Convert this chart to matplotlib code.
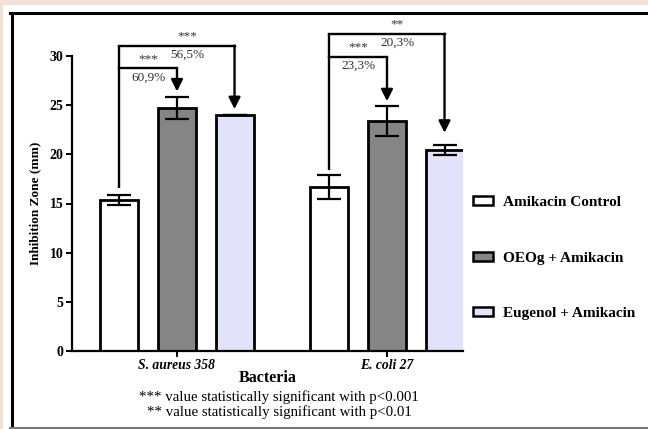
import matplotlib
matplotlib.use("Agg")
import matplotlib.pyplot as plt
from matplotlib.lines import Line2D
from matplotlib.patches import Rectangle, Patch
import numpy as np

categories = ["S. aureus 358", "E. coli 27"]
series = ["Amikacin Control", "OEOg + Amikacin", "Eugenol + Amikacin"]
control = [15.35, 16.7]
control_err = [0.55, 1.2]
oeog = [24.7, 23.4]
oeog_err = [1.15, 1.5]
eugenol = [24.0, 20.4]
eugenol_err = [0.0, 0.5]
yticks = [0, 5, 10, 15, 20, 25, 30]
# significance annotations: (group, target series index, stars, percent)
sig_labels = [
    (0, 1, "***", "60,9%"),
    (0, 2, "***", "56,5%"),
    (1, 1, "***", "23,3%"),
    (1, 2, "**", "20,3%"),
]

W, H = 648, 429
fig = plt.figure(figsize=(W / 100, H / 100), dpi=100)
plt.rcParams['font.family'] = ['Liberation Serif', 'DejaVu Serif']

# background / frame
fig.patches.append(Rectangle((0, 0), 1, 1, transform=fig.transFigure,
                             facecolor="#f2dfd6", edgecolor="none", zorder=-10))
fig.patches.append(Rectangle((3 / W, 0), 1, 1 - 5 / H, transform=fig.transFigure,
                             facecolor="white", edgecolor="none", zorder=-9))
fig.lines.append(Line2D([11.5 / W, 11.5 / W], [0, 1 - 13 / H], transform=fig.transFigure,
                        color="black", lw=2.2))
fig.lines.append(Line2D([10 / W, 1], [1 - 13.3 / H, 1 - 13.3 / H], transform=fig.transFigure,
                        color="black", lw=2.2))
fig.lines.append(Line2D([10 / W, 1], [1 - 428 / H, 1 - 428 / H], transform=fig.transFigure,
                        color="#7a7a7a", lw=1.5))

ax = fig.add_axes([72 / W, (H - 351) / H, (463 - 72) / W, (351 - 56) / H])
ax.set_facecolor("none")

x = np.arange(len(categories))
off = 0.274
bw = 0.181
colors = ["white", "#858585", "#e2e2fb"]
vals = [control, oeog, eugenol]
errs = [control_err, oeog_err, eugenol_err]
for i in range(3):
    xs = x + (i - 1) * off
    ax.bar(xs, vals[i], width=bw, color=colors[i], edgecolor="black", linewidth=2.0, zorder=2)
    ax.errorbar(xs, vals[i], yerr=errs[i], fmt="none", ecolor="black",
                elinewidth=1.6, capsize=8.5, capthick=1.6, zorder=3)

ax.set_xlim(-0.5, 1.362)
ax.set_ylim(0, 30)
ax.set_yticks(yticks)
ax.set_yticklabels([str(t) for t in yticks], fontweight="bold", fontsize=10)
ax.set_xticks(x)
ax.set_xticklabels(categories, fontstyle="italic", fontweight="bold", fontsize=9.8)
for s in ["top", "right"]:
    ax.spines[s].set_visible(False)
for s in ["left", "bottom"]:
    ax.spines[s].set_linewidth(1.6)
ax.tick_params(axis="both", width=1.4, length=4, pad=2)
ax.set_xlabel("Bacteria", fontweight="bold", fontsize=11.5, labelpad=-1.5)
ax.set_ylabel("Inhibition Zone (mm)", fontweight="bold", fontsize=9.5, labelpad=6)

# significance brackets
levels = {(0, 1): 28.75, (0, 2): 31.05, (1, 1): 29.9, (1, 2): 32.25}
starts = {0: 16.55, 1: 18.4}
tips = {(0, 1): 26.4, (0, 2): 24.6, (1, 1): 25.4, (1, 2): 22.2}
for g in range(2):
    top = max(levels[(g, 1)], levels[(g, 2)])
    ax.plot([x[g] - off, x[g] - off], [starts[g], top], color="black", lw=1.7,
            clip_on=False, zorder=4, solid_capstyle="butt")
for (g, si, stars, pct) in sig_labels:
    lv = levels[(g, si)]
    x0 = x[g] - off
    x1 = x[g] + (si - 1) * off
    ax.plot([x0, x1], [lv, lv], color="black", lw=1.7, clip_on=False, zorder=4,
            solid_capstyle="projecting")
    ax.annotate("", xy=(x1, tips[(g, si)]), xytext=(x1, lv),
                arrowprops=dict(arrowstyle="-|>,head_length=0.7,head_width=0.35",
                                color="black", lw=1.7, shrinkA=0, shrinkB=0),
                annotation_clip=False, zorder=4)
    xm = (x0 + x1) / 2 + (0.05 if si == 2 else 0.0)
    ax.text(xm, lv + 0.35, stars, ha="center", va="bottom", fontsize=9.5,
            color="#333333", clip_on=False)
    ax.text(xm, lv - 0.3, pct, ha="center", va="top", fontsize=9.5,
            color="#333333", clip_on=False)

# legend
handles = [Patch(facecolor=c, edgecolor="black", linewidth=1.8) for c in colors]
leg = fig.legend(handles, series, loc="upper left", bbox_to_anchor=(459 / W, 1 - 182 / H),
                 frameon=False, prop=dict(weight="bold", size=11),
                 handlelength=1.3, handleheight=0.52, labelspacing=2.8, handletextpad=0.65,
                 borderpad=0.4)

fig.text(279 / W, 1 - 397 / H, "*** value statistically significant with p<0.001",
         ha="center", va="center", fontsize=10.7)
fig.text(279 / W, 1 - 412 / H, "** value statistically significant with p<0.01",
         ha="center", va="center", fontsize=10.7)

fig.savefig("out.png", dpi=100)
